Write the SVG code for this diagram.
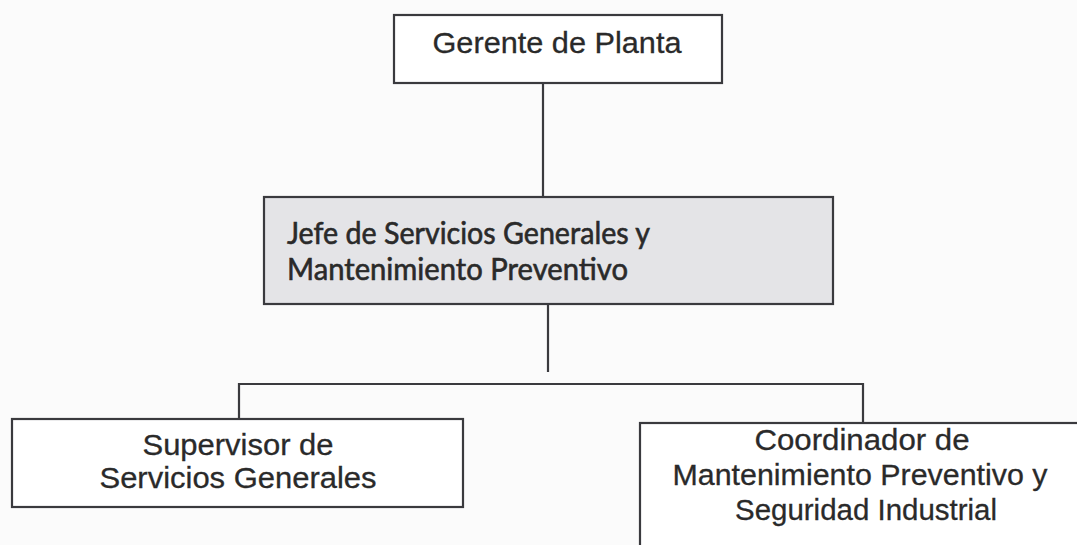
<svg xmlns="http://www.w3.org/2000/svg" width="1077" height="545" viewBox="0 0 1077 545">
<style>
.box{fill:#ffffff;stroke:#3a3a3e;stroke-width:2.2}
.gray{fill:#e4e4e7}
.lbl{font-family:"Liberation Sans",Arial,sans-serif;font-size:30px;fill:#2a2a2a;stroke:#2a2a2a;stroke-width:0.3;text-anchor:middle}
.cal{font-family:Lato,"Open Sans",sans-serif;font-size:30px;fill:#2a2a2a;stroke:#2a2a2a;stroke-width:0.6}
.conn{stroke:#3a3a3e;stroke-width:2.2;fill:none}
</style>
<rect width="1077" height="545" fill="#fbfbfb"/>
<g id="connectors">
<line class="conn" x1="543" y1="83" x2="543" y2="197"/>
<line class="conn" x1="548" y1="304" x2="548" y2="372"/>
<polyline class="conn" points="239,419 239,384 863,384 863,423"/>
</g>
<g id="gerente">
<rect class="box" x="394" y="15" width="328" height="68"/>
<text class="lbl" x="557" y="53" textLength="249" lengthAdjust="spacingAndGlyphs">Gerente de Planta</text>
</g>
<g id="jefe">
<rect class="box gray" x="264" y="197" width="569" height="107"/>
<text class="cal" x="287" y="244" textLength="363" lengthAdjust="spacingAndGlyphs">Jefe de Servicios Generales y</text>
<text class="cal" x="287" y="280" textLength="341" lengthAdjust="spacingAndGlyphs">Mantenimiento Preventivo</text>
</g>
<g id="supervisor">
<rect class="box" x="12" y="419" width="451" height="88"/>
<text class="lbl" x="238" y="455" textLength="191" lengthAdjust="spacingAndGlyphs">Supervisor de</text>
<text class="lbl" x="238" y="488" textLength="277" lengthAdjust="spacingAndGlyphs">Servicios Generales</text>
</g>
<g id="coordinador">
<rect class="box" x="640" y="423" width="460" height="140"/>
<text class="lbl" x="862" y="450" textLength="215" lengthAdjust="spacingAndGlyphs">Coordinador de</text>
<text class="lbl" x="860" y="485" textLength="375" lengthAdjust="spacingAndGlyphs">Mantenimiento Preventivo y</text>
<text class="lbl" x="866" y="520" textLength="262" lengthAdjust="spacingAndGlyphs">Seguridad Industrial</text>
</g>
</svg>
